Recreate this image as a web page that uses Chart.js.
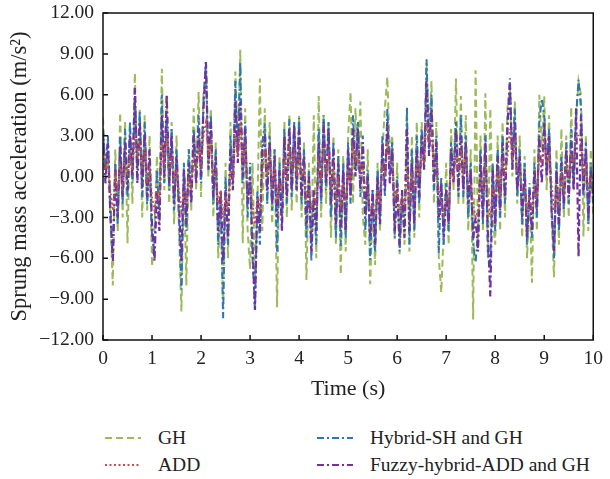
<!DOCTYPE html>
<html>
<head>
<meta charset="utf-8">
<script src="https://cdn.jsdelivr.net/npm/chart.js@4.4.1/dist/chart.umd.min.js"></script>
<style>
  body { margin: 0; background: #fff; font-family: "Liberation Serif", "DejaVu Serif", serif; }
  #page { position: relative; width: 610px; height: 479px; }
  #wrap { position: absolute; left: 0; top: 0; width: 610px; height: 410px; }
  .leg { position: absolute; height: 24px; display: flex; align-items: center; font-size: 19.5px; color: #222; white-space: nowrap; }
  .leg svg { margin-right: 17px; }
</style>
</head>
<body>
<div id="page">
  <div id="wrap"><canvas id="accelChart"></canvas></div>
  <div class="leg" style="left:105px;top:426px"><svg width="36" height="22"><line x1="0" y1="11" x2="36" y2="11" stroke="#9bbb59" stroke-width="2" stroke-dasharray="7,4"/></svg><span>GH</span></div>
  <div class="leg" style="left:105px;top:453px"><svg width="36" height="22"><line x1="0" y1="11" x2="36" y2="11" stroke="#c0504d" stroke-width="2" stroke-dasharray="2,2.5"/></svg><span>ADD</span></div>
  <div class="leg" style="left:317px;top:426px"><svg width="36" height="22"><line x1="0" y1="11" x2="36" y2="11" stroke="#2e75b6" stroke-width="2" stroke-dasharray="7,3,2,3"/></svg><span>Hybrid-SH and GH</span></div>
  <div class="leg" style="left:317px;top:453px"><svg width="36" height="22"><line x1="0" y1="11" x2="36" y2="11" stroke="#7030a0" stroke-width="2" stroke-dasharray="7,3,2,3"/></svg><span>Fuzzy-hybrid-ADD and GH</span></div>
</div>
<script>
// sprung mass acceleration, one sample every 0.05 s from 0 to 10 s
const timeStep = 0.05;
const xTicks = [0, 1, 2, 3, 4, 5, 6, 7, 8, 9, 10];
const yTicks = [-12, -9, -6, -3, 0, 3, 6, 9, 12];

const gh = [
  4.3, 0.0, 2.0, -3.0, -8.0, 2.0, -4.0, 4.7, -3.0, 4.0,
  -4.9, 3.8, -2.0, 7.6, 0.0, 4.9, -3.0, 4.5, -2.5, 3.0,
  -6.6, -4.0, 1.5, -3.5, 7.9, -1.0, 6.0, -2.0, 4.0, -3.5,
  3.0, -4.0, -9.9, 0.5, -8.0, 2.0, -2.5, 5.0, -1.0, 6.2,
  -1.5, 6.2, 7.5, 0.0, 5.0, -3.0, 2.5, -6.0, -2.0, -9.5,
  1.0, -6.0, 4.0, -1.0, 7.7, 2.0, 9.3, -4.9, 5.0, -4.0,
  -6.8, 1.0, -7.5, -2.0, 7.2, -4.0, 5.0, -2.0, 4.0, -3.5,
  2.0, -9.6, 1.5, -3.0, 4.0, -3.0, 4.5, -2.5, 3.5, -2.0,
  4.5, -3.0, 2.5, -7.6, 1.0, -5.0, 4.5, -6.0, 5.9, -3.0,
  4.5, -2.0, 4.0, -4.5, 3.0, -5.0, 2.0, -7.2, 1.5, -5.5,
  3.0, 6.2, -2.0, 5.0, 0.5, 5.5, -3.0, -5.0, 2.0, -7.9,
  -2.0, -6.5, 1.0, -4.0, 2.0, 5.0, 7.3, 1.5, 3.0, -4.6,
  1.0, -5.7, -1.0, -5.0, 4.5, -5.5, 3.0, -4.5, 4.0, -3.0,
  4.0, 0.5, 8.3, 3.0, 7.0, -2.0, 4.0, -6.0, -8.5, -4.0,
  1.0, -5.0, 3.5, -1.0, 7.2, -2.0, 5.9, -2.0, 4.5, -4.0,
  2.0, -10.5, 7.8, -5.0, 3.0, -4.0, 6.1, -6.0, 5.0, -3.0,
  -5.0, 3.0, -4.0, 4.0, -3.0, 5.0, 6.5, 0.0, 5.5, -2.0,
  3.0, -4.5, 1.5, -6.0, -1.0, -7.8, 2.0, -4.0, 6.0, 2.0,
  5.9, -1.0, 4.5, -3.0, -7.4, 2.0, -5.0, 3.5, -3.0, 3.0,
  -3.0, 5.1, -1.0, 4.0, 7.0, 6.0, -4.4, 3.0, -4.0, 2.0,
  -3.0
];

const add = [
  2.0, 0.5, 1.0, -1.0, -2.5, 0.0, -1.0, 1.0, -0.5, 1.0,
  0.0, 1.5, 0.5, 3.0, 1.5, 2.5, 0.5, 2.0, -0.5, 0.5,
  -1.5, -2.5, -1.0, -1.5, 2.5, 1.0, 3.0, 0.5, 1.5, -0.5,
  0.5, -1.0, -2.5, -1.0, -2.0, 0.0, -1.0, 1.5, 0.5, 2.0,
  1.0, 3.0, 4.0, 1.5, 2.5, 0.0, 0.5, -2.0, -1.0, -3.0,
  -1.5, -2.5, 0.5, 0.0, 3.0, 1.5, 4.0, 1.0, 2.5, -0.5,
  -1.0, -2.0, -3.5, -1.5, -2.5, 0.5, 2.0, 0.0, 1.5, -0.5,
  0.5, -1.5, -0.5, -1.0, 1.5, 0.0, 2.0, 0.5, 2.0, 0.0,
  2.0, 0.0, 0.5, -1.5, -1.0, -2.5, -1.5, -2.0, 1.0, 0.0,
  2.0, 0.5, 1.5, -0.5, 0.5, -1.5, 0.0, -2.0, -0.5, -2.0,
  0.5, -0.5, 2.0, 1.0, 2.0, 0.5, 1.0, -1.0, -1.0, -2.5,
  -2.0, -3.0, -1.0, -2.0, 1.0, 0.0, 2.5, 1.0, 1.0, -1.5,
  -1.0, -2.5, -1.5, -2.0, 0.5, -2.0, 0.0, -1.0, 1.0, 0.0,
  1.5, 1.0, 4.0, 2.5, 3.5, 1.0, 1.0, -1.0, -2.0, -3.0,
  -1.5, -2.0, 0.5, 0.0, 1.5, 0.5, 2.0, 0.5, 1.5, -0.5,
  -0.5, -2.0, -3.0, -2.5, 0.0, -1.0, 0.5, -1.5, -3.0, -1.0,
  -1.5, 0.5, -1.0, 1.0, 0.0, 1.5, 3.5, 1.5, 2.5, 0.5,
  0.5, -1.0, -1.0, -2.5, -1.5, -2.5, -1.0, -1.5, 1.5, 1.0,
  2.5, 1.0, 1.5, -0.5, -2.5, -1.0, -2.0, 0.0, -1.0, 1.0,
  0.0, 1.5, 1.0, 3.0, 3.0, 2.5, 0.0, 1.0, -1.0, 0.0,
  -1.0
];

const hybridSH = [
  3.5, 0.5, 3.0, -2.0, -6.0, 1.0, -3.5, 3.0, -2.0, 3.5,
  -1.5, 4.0, -0.5, 5.5, 0.5, 4.8, -1.5, 4.0, -2.0, 1.0,
  -4.5, -5.5, 0.5, -3.0, 6.0, -0.5, 4.5, -1.0, 3.5, -2.5,
  2.0, -3.0, -8.3, 1.0, -4.0, 2.0, -1.5, 3.5, 0.0, 4.5,
  -0.5, 5.5, 8.5, 1.0, 4.5, -2.0, 2.0, -5.0, -1.5, -10.4,
  0.0, -5.0, 3.0, -0.5, 7.0, 1.5, 8.4, -0.5, 4.0, -3.0,
  1.0, -6.0, -9.8, -1.0, -5.0, 2.5, 3.9, -2.0, 3.0, -2.5,
  2.0, -5.5, 1.0, -3.5, 3.5, -2.0, 4.2, -1.5, 4.0, -0.5,
  4.3, -2.0, 2.0, -4.5, 0.5, -6.2, -1.5, -5.0, 3.5, -2.0,
  4.5, -1.0, 4.0, -3.0, 2.5, -4.5, 1.5, -5.1, 1.0, -4.5,
  2.5, -2.0, 4.5, 0.5, 4.0, -1.5, 3.0, -4.0, 0.5, -6.1,
  -1.0, -5.5, 0.5, -3.0, 3.0, -1.5, 5.0, 0.0, 2.5, -4.5,
  0.0, -5.5, -1.5, -4.0, 5.1, -5.0, 2.0, -4.0, 3.0, -2.0,
  3.5, 1.0, 8.6, 2.0, 6.0, -1.0, 3.0, -5.6, 0.0, -5.0,
  -0.5, -4.0, 2.5, 0.0, 4.0, -1.5, 4.5, -1.5, 3.0, -3.0,
  1.0, -5.0, -6.3, -4.0, 2.0, -3.5, 3.0, -5.5, -6.5, 1.0,
  -4.0, 2.0, -3.0, 3.0, -2.0, 4.0, 7.2, 1.0, 5.0, -1.5,
  2.0, -3.5, 1.0, -5.0, -0.5, -4.5, 1.0, -3.0, 4.0, 5.7,
  4.5, 0.5, 3.5, -2.0, -6.0, 1.0, -4.0, 1.5, -2.5, 2.5,
  -2.0, 3.5, -0.5, 4.5, 7.1, 5.0, -1.5, 2.5, -3.5, 1.0,
  -2.0
];

const fuzzyHybrid = [
  3.2, -0.5, 2.5, -2.8, -6.2, 0.5, -3.0, 2.2, -1.5, 2.5,
  -1.0, 3.0, 0.0, 6.5, -0.5, 4.0, -0.8, 3.2, -1.5, 2.0,
  -3.5, -6.2, -1.0, -4.0, 4.5, 0.0, 6.0, -0.5, 3.0, -2.0,
  1.5, -2.0, -6.2, 0.5, -3.5, 1.0, -2.0, 3.0, -0.5, 3.5,
  0.0, 5.0, 8.4, 0.5, 4.0, -1.5, 1.5, -4.0, -1.0, -6.2,
  -1.0, -4.5, 2.0, -1.0, 5.5, 1.0, 5.5, 0.0, 3.5, -2.0,
  0.0, -5.0, -9.8, -1.5, -4.0, 2.0, 2.8, -1.0, 2.5, -2.0,
  1.5, -3.0, 0.5, -4.0, 3.0, -1.5, 3.5, -1.0, 3.8, -1.0,
  3.5, -1.5, 1.5, -3.5, 0.0, -5.5, -1.0, -4.0, 2.5, -1.5,
  4.0, -0.5, 3.5, -2.0, 2.0, -3.5, 1.0, -4.0, 0.5, -4.0,
  2.0, -1.5, 3.5, 0.0, 3.5, -1.0, 2.5, -3.0, 0.0, -4.5,
  -1.0, -5.0, 0.0, -3.5, 2.5, -1.0, 4.0, -0.5, 2.0, -4.0,
  -0.5, -5.0, -1.0, -4.5, 3.5, -4.0, 1.0, -3.5, 2.0, -1.5,
  3.0, 0.5, 7.0, 1.5, 5.0, -0.5, 2.5, -3.0, -0.5, -4.5,
  -1.0, -3.5, 2.0, -0.5, 3.5, -1.0, 3.0, -1.0, 2.5, -2.0,
  0.5, -4.5, -3.0, -5.5, 1.5, -3.0, 2.5, -4.0, -8.8, 0.5,
  -3.5, 1.5, -2.5, 2.5, -1.5, 3.5, 6.8, 0.5, 4.0, -1.0,
  1.5, -3.0, 0.5, -4.5, -1.0, -4.0, 0.5, -2.5, 3.0, -0.5,
  4.0, 0.0, 3.0, -2.5, -5.5, 0.5, -3.5, 1.0, -2.0, 2.0,
  -1.5, 2.5, -1.0, 5.0, -5.9, 4.5, -1.0, 2.0, -3.0, 0.5,
  -1.5
];

function toPoints(values) {
  return values.map((v, i) => ({ x: i * timeStep, y: v }));
}

// frame round the plot and short inward tick marks
const frameAndTicks = {
  id: "frameAndTicks",
  afterDatasetsDraw(chart) {
    const { ctx, chartArea: a, scales: { x, y } } = chart;
    ctx.save();
    ctx.strokeStyle = "#111";
    ctx.lineWidth = 1.5;
    ctx.strokeRect(a.left, a.top, a.right - a.left, a.bottom - a.top);
    ctx.beginPath();
    xTicks.forEach(v => {
      const px = x.getPixelForValue(v);
      ctx.moveTo(px, a.bottom);
      ctx.lineTo(px, a.bottom - 5);
    });
    yTicks.forEach(v => {
      const py = y.getPixelForValue(v);
      ctx.moveTo(a.left, py);
      ctx.lineTo(a.left + 5, py);
    });
    ctx.stroke();
    ctx.restore();
  }
};

const serif = "'Liberation Serif', 'DejaVu Serif', serif";
const ctx = document.getElementById("accelChart").getContext("2d");

new Chart(ctx, {
  type: "line",
  data: {
    datasets: [
      { label: "ADD", data: toPoints(add), borderColor: "#c0504d", borderDash: [2, 2.5], borderWidth: 1.8, order: 0 },
      { label: "Fuzzy-hybrid-ADD and GH", data: toPoints(fuzzyHybrid), borderColor: "#7030a0", borderDash: [7, 3, 2, 3], borderWidth: 2.2, order: 1 },
      { label: "Hybrid-SH and GH", data: toPoints(hybridSH), borderColor: "#2e75b6", borderDash: [7, 3, 2, 3], borderWidth: 2, order: 2 },
      { label: "GH", data: toPoints(gh), borderColor: "#9bbb59", borderDash: [7, 4], borderWidth: 2, order: 3 }
    ]
  },
  options: {
    responsive: true,
    maintainAspectRatio: false,
    animation: false,
    layout: { padding: { top: 13, right: 14, left: 0, bottom: 0 } },
    elements: { point: { radius: 0 }, line: { tension: 0, fill: false } },
    plugins: {
      legend: { display: false },
      tooltip: { enabled: false }
    },
    scales: {
      x: {
        type: "linear",
        min: 0,
        max: 10,
        afterBuildTicks: scale => { scale.ticks = xTicks.map(v => ({ value: v })); },
        afterFit: scale => { scale.height = 70; },
        grid: { display: false, drawTicks: false },
        border: { display: false },
        ticks: { color: "#222", padding: 7, maxRotation: 0, font: { family: serif, size: 19.5 } },
        title: { display: true, text: "Time (s)", color: "#222", padding: { top: 0, bottom: 8 }, font: { family: serif, size: 22 } }
      },
      y: {
        min: -12,
        max: 12,
        afterBuildTicks: scale => { scale.ticks = yTicks.map(v => ({ value: v })); },
        afterFit: scale => {
          scale.width = 103;
          scale.paddingTop = 0;
          scale.paddingBottom = 0;
        },
        grid: { display: false, drawTicks: false },
        border: { display: false },
        ticks: {
          color: "#222",
          padding: 9,
          font: { family: serif, size: 19.5 },
          callback: v => (v < 0 ? "\u2212" : "") + Math.abs(v).toFixed(2)
        },
        title: { display: true, text: "Sprung mass acceleration (m/s\u00b2)", color: "#222", padding: { top: 7, bottom: 0 }, font: { family: serif, size: 22.5 } }
      }
    }
  },
  plugins: [frameAndTicks]
});
</script>
</body>
</html>
